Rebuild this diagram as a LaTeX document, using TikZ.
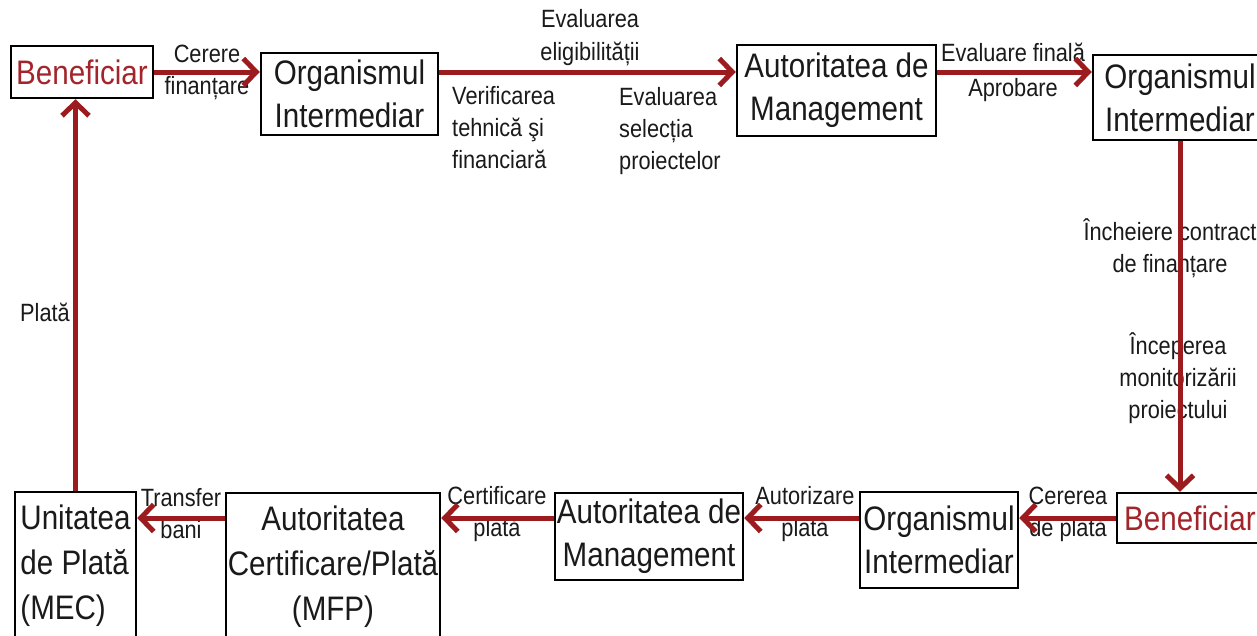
\documentclass[tikz,border=0pt]{standalone}
\usepackage{fontspec}
\setmainfont[FakeStretch=0.87]{Liberation Sans}
\usetikzlibrary{arrows.meta}
\definecolor{arr}{HTML}{9B1B1E}
\definecolor{bred}{HTML}{A3252B}
\definecolor{txt}{HTML}{1A1A1A}
\begin{document}
\begin{tikzpicture}[x=1pt,y=-1pt,
  box/.style={draw=black, line width=2.5pt, inner sep=0pt, align=center,
    font=\fontsize{34}{43}\selectfont, text=txt},
  lbl/.style={inner sep=0pt, text=txt, font=\fontsize{25}{32}\selectfont},
  flow/.style={draw=arr, line width=5pt,
    -{Straight Barb[length=13pt,width=27pt]}}]
\clip (0,0) rectangle (1257,635);
\fill[white] (0,0) rectangle (1257,635);
% boxes
\node[box, minimum width=142, minimum height=52, text=bred] (ben1) at (82,72) {Beneficiar};
\node[box, minimum width=177, minimum height=82] (oi1) at (349.5,94) {Organismul\\Intermediar};
\node[box, minimum width=199, minimum height=91] (am1) at (836.5,90.5) {Autoritatea de\\Management};
\node[box, minimum width=174, minimum height=85] (oi2) at (1180,97.5) {Organismul\\Intermediar};
\node[box, minimum width=146, minimum height=50, text=bred] (ben2) at (1190,518) {Beneficiar};
\node[box, minimum width=158, minimum height=96] (oi3) at (939,540) {Organismul\\Intermediar};
\node[box, minimum width=188, minimum height=87] (am2) at (649,536.5) {Autoritatea de\\Management};
\node[box, minimum width=214, minimum height=147, font=\fontsize{34}{45}\selectfont] (mfp) at (333,566.5) {Autoritatea\\Certificare/Plată\\(MFP)};
\node[box, minimum width=121, minimum height=148, align=left, font=\fontsize{34}{45}\selectfont] (mec) at (75.5,566) {Unitatea\\de Plată\\(MEC)};
% labels
\node[lbl, align=center] (l1) at (207,72) {Cerere\\finanțare};
\node[lbl, align=center, font=\fontsize{25}{33}\selectfont] (l2) at (590,38) {Evaluarea\\eligibilității};
\node[lbl, align=left, anchor=west] (l3) at (452,128) {Verificarea\\tehnică şi\\financiară};
\node[lbl, align=left, anchor=west] (l4) at (619,131) {Evaluarea\\selecția\\proiectelor};
\node[lbl, align=center, font=\fontsize{25}{35}\selectfont] (l5) at (1013,72) {Evaluare finală\\Aprobare};
\node[lbl, align=center] (l6) at (1170,248) {Încheiere contract\\de finanțare};
\node[lbl, align=center] (l7) at (1178,378) {Începerea\\monitorizării\\proiectului};
\node[lbl] (l8) at (45,312) {Plată};
\node[lbl, align=center] (l9) at (181,514) {Transfer\\bani};
\node[lbl, align=center] (l10) at (497,514) {Certificare\\plată};
\node[lbl, align=center] (l11) at (805,514) {Autorizare\\plată};
\node[lbl, align=center] (l12) at (1068,514) {Cererea\\de plată};
% connectors
\draw[flow] (ben1.east) -- (ben1.east -| oi1.west);
\draw[flow] (oi1.east |- ben1.east) -- (am1.west |- ben1.east);
\draw[flow] (am1.east |- ben1.east) -- (oi2.west |- ben1.east);
\draw[flow] (oi2.south) -- (oi2.south |- ben2.north);
\draw[flow] (ben2.west) -- (ben2.west -| oi3.east);
\draw[flow] (oi3.west |- ben2.west) -- (am2.east |- ben2.west);
\draw[flow] (am2.west |- ben2.west) -- (mfp.east |- ben2.west);
\draw[flow] (mfp.west |- ben2.west) -- (mec.east |- ben2.west);
\draw[flow] (mec.north) -- (mec.north |- ben1.south);
\end{tikzpicture}
\end{document}
